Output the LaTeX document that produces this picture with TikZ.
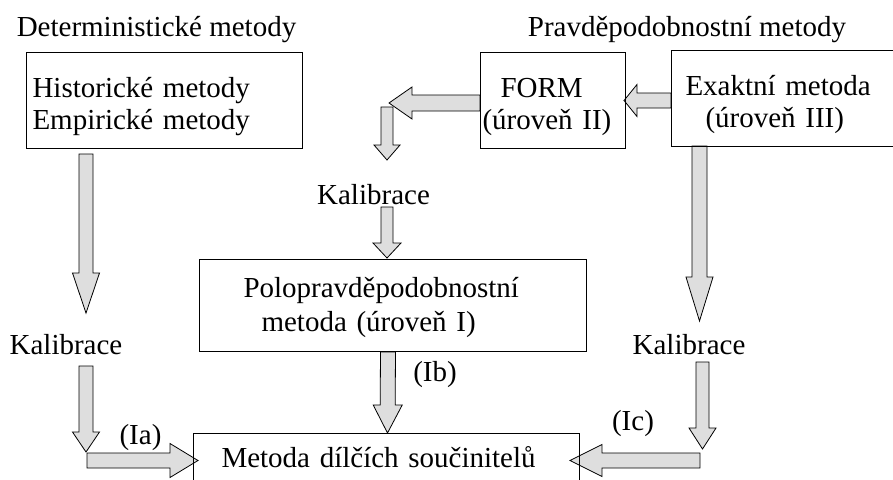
\documentclass[tikz,border=0pt]{standalone}
\usepackage{fontspec}
\setmainfont{Liberation Serif}
\usetikzlibrary{calc,backgrounds}
\tikzset{
  box/.style={draw, line width=1pt, anchor=north west, inner xsep=6pt, inner ysep=0pt,
    align=left, font=\fontsize{29}{32}\selectfont},
  lbl/.style={inner sep=0pt, anchor=base, font=\fontsize{29}{33}\selectfont},
  blockarr/.style={draw, line width=0.8pt, fill=black!13, line join=miter},
}
\newcommand\topstrut{\rule{0pt}{32pt}}
\newcommand\blockarrow[5]{%
  \coordinate (ba-h) at ($(#2)!#5!(#1)$);
  \draw[blockarr] ($(#1)!#3!-90:(#2)$) -- ($(ba-h)!#3!-90:(#2)$) -- ($(ba-h)!#4!-90:(#2)$)
    -- (#2) -- ($(ba-h)!#4!90:(#2)$) -- ($(ba-h)!#3!90:(#2)$) -- ($(#1)!#3!90:(#2)$) -- cycle;}
\begin{document}
\begin{tikzpicture}[x=1pt,y=-1pt]
\useasboundingbox (0,0) rectangle (893,479);
\clip (0,0) rectangle (893,479);

% boxes
\node[box, text width=264pt, minimum height=96pt] (hist) at (26,52) {\topstrut Historické metody\\Empirické metody};
\node[box, inner xsep=2pt, text width=141pt, minimum height=96pt] (form) at (480,52) {\topstrut\hspace*{18pt}FORM\\(úroveň II)};
\node[box, text width=220pt, minimum height=96pt] (exact) at (671,50) {\topstrut\hspace*{8pt}Exaktní metoda\\\hspace*{28pt}(úroveň III)};
\node[box, text width=375pt, minimum height=92pt, font=\fontsize{29}{34}\selectfont] (polo) at (199,259) {\rule{0pt}{24pt}\hspace*{38pt}Polopravděpodobnostní\\\hspace*{56pt}metoda (úroveň I)};
\node[box, text width=374pt, minimum height=48pt] (dilci) at (193,433) {\hspace*{22pt}Metoda dílčích součinitelů};

% labels
\node[lbl] (det) at (156.5,36) {Deterministické metody};
\node[lbl] (prav) at (687,36) {Pravděpodobnostní metody};
\node[lbl] (kal1) at (373.5,204) {Kalibrace};
\node[lbl] (kal2) at (66,354) {Kalibrace};
\node[lbl] (kal3) at (689,354) {Kalibrace};
\node[lbl] (ia) at (140.5,444) {(Ia)};
\node[lbl] (ib) at (435,381) {(Ib)};
\node[lbl] (ic) at (633,430) {(Ic)};

% arrow end points
\coordinate (a1s) at (86,154);   \coordinate (a1e) at (86,313);
\coordinate (a2s) at (86,366);   \coordinate (a2e) at (86,452);
\coordinate (a3s) at (87,460.5); \coordinate (a3e) at (198,460.5);
\coordinate (a4s) at ($(polo.south)+(-5,0)$); \coordinate (a4e) at (387.5,433);
\coordinate (a5s) at (387,107);  \coordinate (a5e) at (387,160);
\coordinate (a6s) at (387,207);  \coordinate (a6e) at (387,258);
\coordinate (a7s) at (form.west|-0,103); \coordinate (a7e) at (389,103);
\coordinate (a8s) at (exact.west|-0,100.5); \coordinate (a8e) at (624,100.5);
\coordinate (a9s) at (699.5,146); \coordinate (a9e) at (699.5,321);
\coordinate (a10s) at (702.5,362); \coordinate (a10e) at (702.5,449);
\coordinate (a11s) at (700,460.5); \coordinate (a11e) at (570,460.5);

\begin{pgfonlayer}{background}
\blockarrow{a1s}{a1e}{7pt}{13.5pt}{40pt}
\blockarrow{a2s}{a2e}{7pt}{13.5pt}{20pt}
\blockarrow{a3s}{a3e}{7.5pt}{17pt}{28pt}
\blockarrow{a4s}{a4e}{7.5pt}{14.5pt}{28pt}
\blockarrow{a5s}{a5e}{6pt}{13pt}{15pt}
\blockarrow{a6s}{a6e}{6pt}{14pt}{15pt}
\blockarrow{a7s}{a7e}{8pt}{16pt}{23pt}
\blockarrow{a8s}{a8e}{7.5pt}{16pt}{13pt}
\blockarrow{a9s}{a9e}{7.5pt}{13.5pt}{44pt}
\blockarrow{a10s}{a10e}{6.5pt}{13.5pt}{21pt}
\blockarrow{a11s}{a11e}{7.5pt}{16pt}{32pt}
\end{pgfonlayer}
\end{tikzpicture}
\end{document}
